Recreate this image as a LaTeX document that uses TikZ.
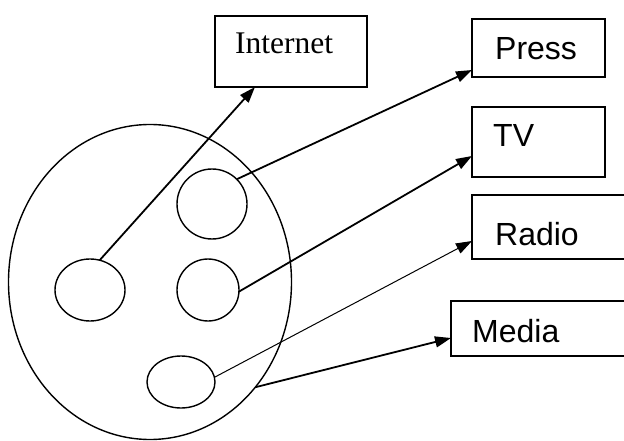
\documentclass[tikz,border=0pt]{standalone}
\usepackage{fontspec}
\setmainfont{Liberation Serif}
\newfontfamily\labelsans{Liberation Sans}
\usetikzlibrary{shapes.geometric,arrows.meta}
\tikzset{
  box/.style={draw, line width=1.6pt, rectangle, inner sep=0pt, outer sep=0pt, anchor=north west},
  oval/.style={draw, line width=1.4pt, ellipse, inner sep=0pt, outer sep=0pt},
  conn/.style={line width=1.8pt, -{Triangle[length=16pt,width=11pt]}},
  thinconn/.style={line width=1pt, -{Triangle[length=16pt,width=11pt]}},
  sanstxt/.style={anchor=base west, inner sep=0pt, font=\labelsans\fontsize{32}{38}\selectfont},
  seriftxt/.style={anchor=base west, inner sep=0pt, font=\fontsize{31.5}{38}\selectfont}
}
\begin{document}
\begin{tikzpicture}[x=1pt,y=-1pt]
\useasboundingbox (0,0) rectangle (624,441);
\clip (0,0) rectangle (624,441);
% big ellipse
\node[oval, minimum width=283pt, minimum height=315pt] (E) at (150,282) {};
% small ellipses
\node[oval, minimum width=70pt, minimum height=70pt] (c1) at (212,204) {};
\node[oval, minimum width=70pt, minimum height=62pt] (c2) at (90,290) {};
\node[oval, minimum width=62pt, minimum height=62pt] (c3) at (208,290) {};
\node[oval, minimum width=68pt, minimum height=52pt] (c4) at (181,382) {};
% boxes
\node[box, minimum width=152pt, minimum height=71pt] (inet) at (215,16) {};
\node[box, minimum width=133pt, minimum height=58pt] (press) at (472,19) {};
\node[box, minimum width=133pt, minimum height=70pt] (tv) at (472,107) {};
\node[box, minimum width=200pt, minimum height=64pt] (radio) at (472,195) {};
\node[box, minimum width=220pt, minimum height=55pt] (media) at (451,301) {};
% texts
\node[seriftxt] (tinet) at (235,54) {Internet};
\node[sanstxt] (tpress) at (495,60) {Press};
\node[sanstxt] (ttv) at (493,147) {TV};
\node[sanstxt] (tradio) at (495,245) {Radio};
\node[sanstxt] (tmedia) at (472,342) {Media};
% anchor points on boxes
\coordinate (pinet) at (255,87);
\coordinate (ppress) at (472,70);
\coordinate (ptv) at (472,156);
\coordinate (pradio) at (472,241);
\coordinate (pmedia) at (451,338);
% connectors
\draw[conn] (c2.72) -- (pinet);
\draw[conn] (c1.45) -- (ppress);
\draw[conn] (c3.-3) -- (ptv);
\draw[thinconn] (c4.8) -- (pradio);
\draw[conn] (E.-45) -- (pmedia);
\end{tikzpicture}
\end{document}
